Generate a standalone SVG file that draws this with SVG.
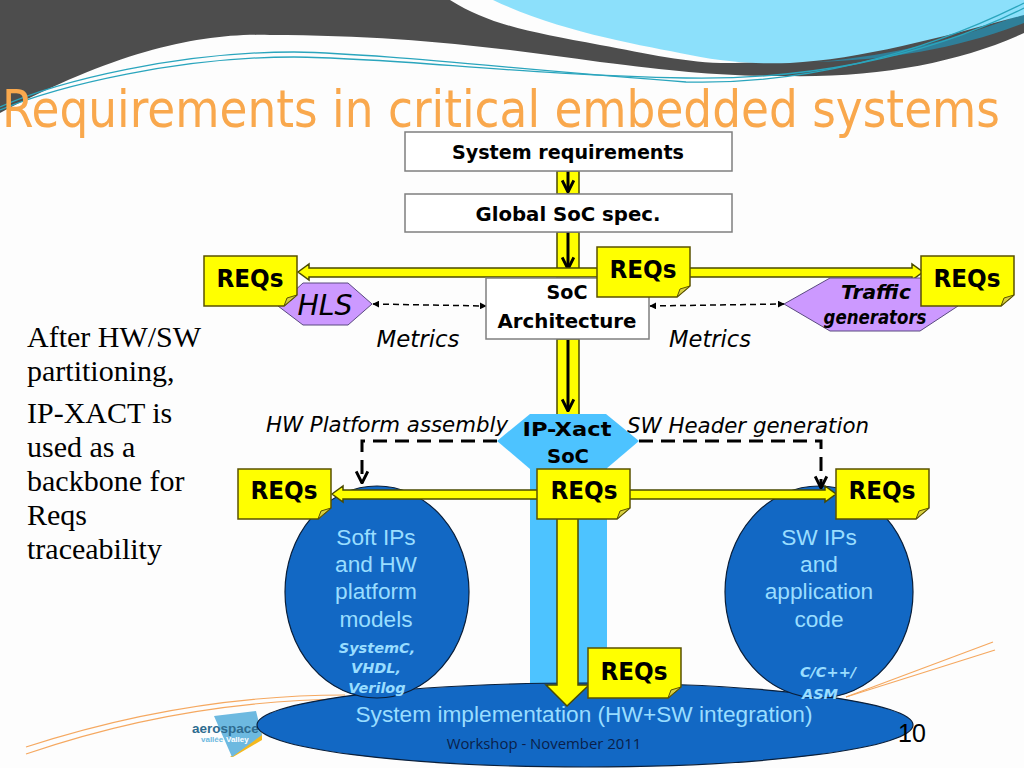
<svg xmlns="http://www.w3.org/2000/svg" width="1024" height="768" viewBox="0 0 1024 768">
<style>
.box{fill:#fff;stroke:#7f7f7f;stroke-width:1.5}
.c{font-family:"DejaVu Sans",sans-serif;fill:#000;text-anchor:middle}
.b{font-weight:bold}
.i{font-style:italic}
.req{font-family:"DejaVu Sans",sans-serif;font-weight:bold;font-size:25px;text-anchor:middle;fill:#000}
.note{fill:#ff0;stroke:#5a5200;stroke-width:1.5}
.fold{fill:#d8d040;stroke:#5a5200;stroke-width:1}
.ya{fill:#ff0;stroke:#4a4a00;stroke-width:1.5}
.bl{fill:#1268c4;stroke:#0a1f3a;stroke-width:1.2}
.pu{fill:#cc99ff;stroke:#5a4a80;stroke-width:1}
.lt{font-family:"Liberation Sans",sans-serif;fill:#99ddff;text-anchor:middle;font-size:22.7px}
.lc{font-family:"DejaVu Sans",sans-serif;font-weight:bold;font-style:italic;fill:#99ddff;text-anchor:middle;font-size:14.5px}
.se{font-family:"Liberation Serif",serif;font-size:30px;fill:#000}
.sw{fill:none;stroke:#2aa5bd;stroke-width:1.3}
.or{fill:none;stroke:#f5a860;stroke-width:1.2}
.bk{fill:none;stroke:#000;stroke-width:3}
.dt{fill:none;stroke:#000;stroke-width:1.5;stroke-dasharray:6 4}
.dk{fill:none;stroke:#000;stroke-width:3;stroke-dasharray:14 8}
</style>
<defs>
<symbol id="n" width="96" height="53" viewBox="0 0 96 53" overflow="visible">
<path class="note" d="M1 1H94V40L81 51H1Z"/><path class="fold" d="M81 51L84 43L94 40Z"/>
</symbol>
<marker id="da" viewBox="0 0 10 10" refX="9" refY="5" markerWidth="7" markerHeight="7" orient="auto-start-reverse" markerUnits="userSpaceOnUse"><path d="M0 0L10 5L0 10Z" fill="#000"/></marker>
<marker id="ba" viewBox="0 0 12 12" refX="11" refY="6" markerWidth="14" markerHeight="14" orient="auto" markerUnits="userSpaceOnUse"><path d="M1 1L11 6L1 11" fill="none" stroke="#000" stroke-width="2.5"/></marker>
</defs>
<rect width="1024" height="768" fill="#fdfdfd"/>
<g id="background">
<path d="M0 0H450C490 25 530 32 600 45C650 54 690 64 735 63C840 60 940 40 1024 10V33C960 62 880 78 784 76C720 76 680 72 600 62C500 48 400 35 270 35C200 33 120 50 0 113Z" fill="#4d4d4d"/>
<path d="M816 62C900 55 970 35 1024 13V23C960 48 890 60 816 62Z" fill="#2f7f99"/>
<path d="M493 0C560 32 640 45 690 55C730 63 760 64 790 63C860 60 950 35 1024 15V0Z" fill="#8ce0fb"/>
<path class="sw" d="M0 107C60 80 180 52 294 52C390 54 520 70 686 82C800 85 920 55 1024 3"/>
<path class="sw" d="M0 110C60 85 180 57 294 57C400 58 520 75 686 78C800 80 920 60 1024 8"/>
<path class="or" d="M26 747C140 710 250 695 345 695"/>
<path class="or" d="M26 754C140 715 250 700 345 699"/>
<path class="or" d="M993 642L846 697"/>
<path class="or" d="M995 650L846 697"/>
</g>
<g id="logo">
<path d="M230 757L262 733V740L233 757Z" fill="#f5b91e"/>
<path d="M214 716L256 711L262 735L232 757Z" fill="#6db9e0"/>
<text x="192" y="733" font-family="Liberation Sans,sans-serif" font-weight="bold" font-size="13.5" fill="#2d6b8f">aerospace</text>
<text x="201" y="742" font-family="Liberation Sans,sans-serif" font-weight="bold" font-size="8" fill="#6db9e0">vallée</text>
<text x="226" y="742" font-family="Liberation Sans,sans-serif" font-weight="bold" font-size="8" fill="#fff">Valley</text>
</g>
<text id="title" x="2" y="127" font-family="DejaVu Sans,sans-serif" font-size="51" fill="#f9a84d" textLength="998" lengthAdjust="spacingAndGlyphs">Requirements in critical embedded systems</text>
<rect id="band" x="530" y="465" width="77" height="230" fill="#4dc3ff"/>
<g id="connectors">
<rect class="ya" x="557" y="171" width="22" height="23"/>
<rect class="ya" x="557" y="232" width="22" height="46"/>
<rect class="ya" x="557" y="339" width="22" height="78"/>
<path class="bk" d="M568 171V192" marker-end="url(#ba)"/>
<path class="bk" d="M568 232V269" marker-end="url(#ba)"/>
<path class="bk" d="M568 340V411" marker-end="url(#ba)"/>
<path class="ya" d="M298 272L309 264V268H912V264L923 272L912 280V277H309V280Z"/>
<path class="dt" d="M373 304L486 306" marker-start="url(#da)" marker-end="url(#da)"/>
<path class="dt" d="M650 306L784 304" marker-start="url(#da)" marker-end="url(#da)"/>
</g>
<g id="system-requirements"><rect class="box" x="405" y="132" width="327" height="39"/><text class="c b" x="568" y="159" font-size="20" textLength="232" lengthAdjust="spacingAndGlyphs">System requirements</text></g>
<g id="global-spec"><rect class="box" x="405" y="194" width="327" height="38"/><text class="c b" x="568" y="221" font-size="20" textLength="185" lengthAdjust="spacingAndGlyphs">Global SoC spec.</text></g>
<g id="soc-arch"><rect class="box" x="486" y="278" width="163" height="61"/><text class="c b" x="567" y="299" font-size="20" textLength="41" lengthAdjust="spacingAndGlyphs">SoC</text><text class="c b" x="567" y="328" font-size="20" textLength="139" lengthAdjust="spacingAndGlyphs">Architecture</text></g>
<g id="hls"><path class="pu" d="M278 306L303 283H348L372 304L348 325H303Z"/><text class="c i" x="325" y="315" font-size="29" textLength="55" lengthAdjust="spacingAndGlyphs">HLS</text></g>
<g id="traffic"><path class="pu" d="M784 304L830 278H950L958 306L920 331H830Z"/><text class="c b i" x="876" y="299" font-size="19" textLength="70" lengthAdjust="spacingAndGlyphs">Traffic</text><text class="c b i" x="875" y="324" font-size="19" textLength="103" lengthAdjust="spacingAndGlyphs">generators</text></g>
<text class="c i" x="418" y="347" font-size="23" textLength="83" lengthAdjust="spacingAndGlyphs">Metrics</text>
<text class="c i" x="710" y="347" font-size="23" textLength="82" lengthAdjust="spacingAndGlyphs">Metrics</text>
<text class="c i" x="387" y="432" font-size="22" textLength="242" lengthAdjust="spacingAndGlyphs">HW Platform assembly</text>
<text class="c i" x="748" y="433" font-size="22" textLength="242" lengthAdjust="spacingAndGlyphs">SW Header generation</text>
<g id="bottom"><ellipse class="bl" cx="585" cy="725" rx="328" ry="42"/><text class="lt" x="584" y="722">System implementation (HW+SW integration)</text><text x="544" y="749" font-family="Open Sans,sans-serif" font-size="14.9" fill="#0a1f4a" text-anchor="middle">Workshop - November 2011</text></g>
<g id="soft-ips"><ellipse class="bl" cx="377" cy="592" rx="92" ry="106"/>
<text class="lt" x="376" y="545">Soft IPs</text><text class="lt" x="376" y="572">and HW</text><text class="lt" x="376" y="599">platform</text><text class="lt" x="376" y="627">models</text>
<text class="lc" x="377" y="653">SystemC,</text><text class="lc" x="376" y="673">VHDL,</text><text class="lc" x="377" y="693">Verilog</text></g>
<g id="sw-ips"><ellipse class="bl" cx="819" cy="592" rx="94" ry="106"/>
<text class="lt" x="819" y="545">SW IPs</text><text class="lt" x="819" y="572">and</text><text class="lt" x="819" y="599">application</text><text class="lt" x="819" y="627">code</text>
<text class="lc" x="828" y="677">C/C++/</text><text class="lc" x="820" y="699">ASM</text></g>
<g id="ipxact"><path d="M530 414H606L639 441L606 469H530L497 441Z" fill="#4dc3ff"/><text class="c b" x="567" y="436" font-size="20" textLength="89" lengthAdjust="spacingAndGlyphs">IP-Xact</text><text class="c b" x="568" y="463" font-size="20" textLength="42" lengthAdjust="spacingAndGlyphs">SoC</text></g>
<g id="connectors-lower">
<path class="dk" d="M497 441H362V483" marker-end="url(#ba)"/>
<path class="dk" d="M639 441H821V488" marker-end="url(#ba)"/>
<path class="ya" d="M332 494L343 486V490H825V486L836 494L825 502V499H343V502Z"/>
<path class="ya" d="M557 510H578V685H589L567 706L546 685H557Z"/>
</g>
<g id="req-1"><use href="#n" x="203" y="255"/><text class="req" x="250" y="287" textLength="67" lengthAdjust="spacingAndGlyphs">REQs</text></g>
<g id="req-2"><use href="#n" x="596" y="246"/><text class="req" x="643" y="278" textLength="67" lengthAdjust="spacingAndGlyphs">REQs</text></g>
<g id="req-3"><use href="#n" x="920" y="255"/><text class="req" x="967" y="287" textLength="67" lengthAdjust="spacingAndGlyphs">REQs</text></g>
<g id="req-4"><use href="#n" x="237" y="468"/><text class="req" x="284" y="499" textLength="67" lengthAdjust="spacingAndGlyphs">REQs</text></g>
<g id="req-5"><use href="#n" x="536" y="468"/><text class="req" x="584" y="499" textLength="67" lengthAdjust="spacingAndGlyphs">REQs</text></g>
<g id="req-6"><use href="#n" x="835" y="468"/><text class="req" x="882" y="499" textLength="67" lengthAdjust="spacingAndGlyphs">REQs</text></g>
<g id="req-7"><use href="#n" x="587" y="647"/><text class="req" x="634" y="680" textLength="67" lengthAdjust="spacingAndGlyphs">REQs</text></g>
<g id="side-text">
<text class="se" x="27" y="347">After HW/SW</text><text class="se" x="27" y="381">partitioning,</text><text class="se" x="27" y="423">IP-XACT is</text><text class="se" x="27" y="457">used as a</text><text class="se" x="27" y="491">backbone for</text><text class="se" x="27" y="525">Reqs</text><text class="se" x="27" y="559">traceability</text>
</g>
<text id="page" x="898" y="742" font-family="Liberation Sans,sans-serif" font-size="25" fill="#000">10</text>
</svg>
